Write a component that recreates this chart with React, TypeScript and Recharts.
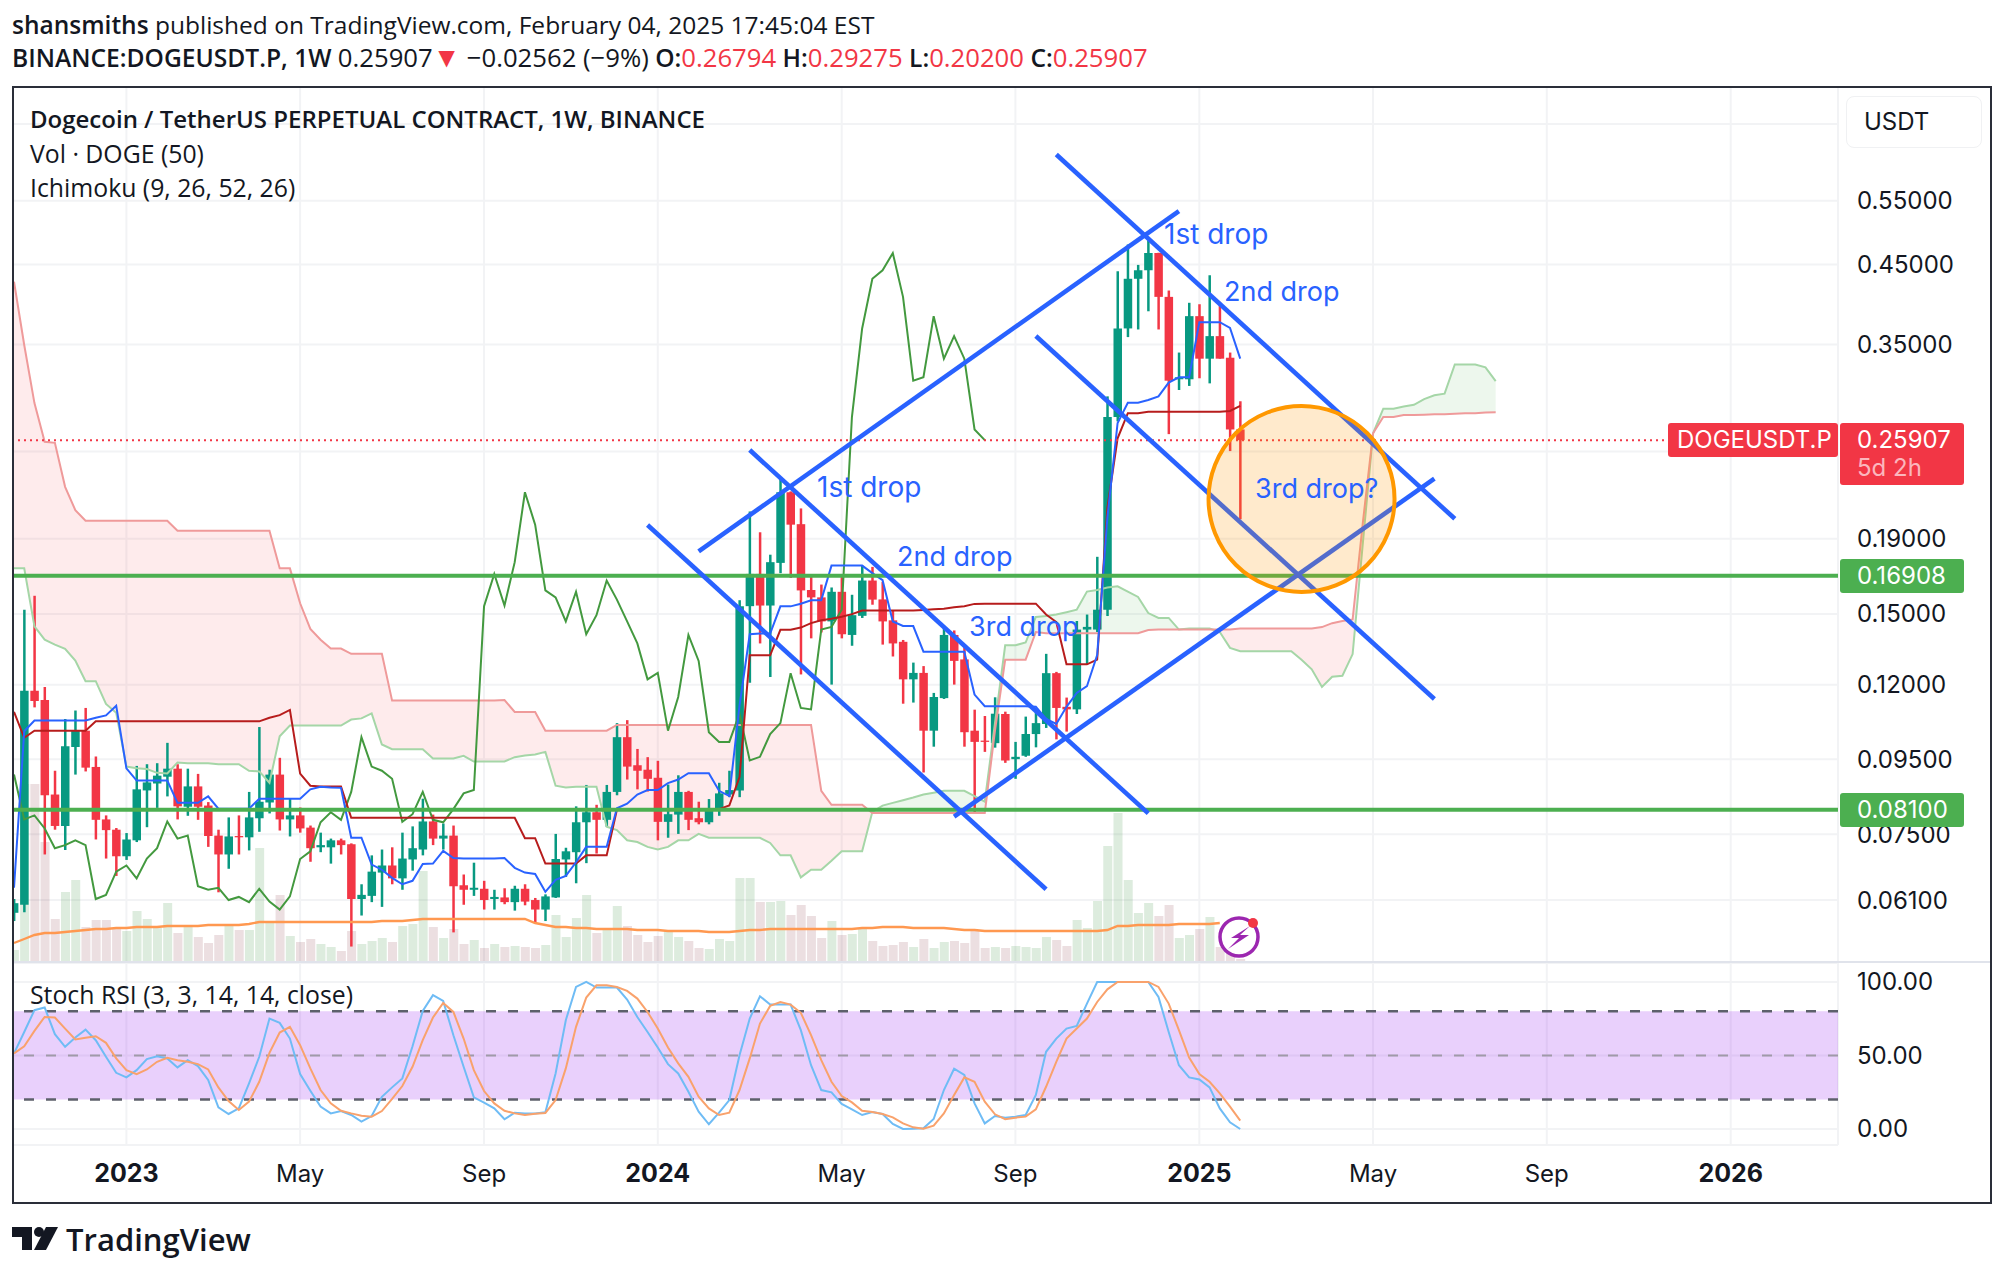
import {
  Area,
  Bar,
  CartesianGrid,
  Cell,
  ComposedChart,
  Line,
  ReferenceArea,
  ReferenceDot,
  ReferenceLine,
  XAxis,
  YAxis,
} from 'recharts';

// week index 0 = 2022-10-17, one slot per week, room for the projected cloud and empty future
const weeks = Array.from({ length: 179 }, (_, i) => i);
const tickWeeks = [11, 28, 46, 63, 81, 98, 116, 133, 150, 168];
const tickLabels = ['2023', 'May', 'Sep', '2024', 'May', 'Sep', '2025', 'May', 'Sep', '2026'];
const priceTicks = [0.55, 0.45, 0.35, 0.19, 0.15, 0.12, 0.095, 0.075, 0.061];
// two more grid levels whose labels sit behind the USDT button and the last price tag
const priceGrid = [0.7, 0.55, 0.45, 0.35, 0.25, 0.19, 0.15, 0.12, 0.095, 0.075, 0.061];
const rsiTicks = [0, 50, 100];

const opens = [
  0.0586, 0.0601, 0.1178, 0.1144, 0.085, 0.077, 0.0987, 0.1039, 0.0927, 0.0786,
  0.0761, 0.07, 0.0736, 0.0861, 0.088, 0.0899, 0.0922, 0.0818, 0.0872, 0.0821,
  0.0747, 0.0704, 0.0746, 0.0743, 0.0789, 0.0829, 0.0905, 0.0786, 0.0796, 0.0766,
  0.072, 0.072, 0.0736, 0.0727, 0.0612, 0.0618, 0.0665, 0.068, 0.0653, 0.0693,
  0.0715, 0.0781, 0.074, 0.0747, 0.0639, 0.063, 0.0632, 0.0612, 0.0615, 0.0606,
  0.0632, 0.061, 0.0592, 0.0615, 0.0693, 0.0709, 0.0779, 0.0804, 0.0785, 0.0857,
  0.1018, 0.0932, 0.0919, 0.0896, 0.078, 0.0798, 0.0857, 0.0789, 0.0779, 0.081,
  0.085, 0.0861, 0.1537, 0.1701, 0.154, 0.1761, 0.2199, 0.1989, 0.1617, 0.158,
  0.1465, 0.1608, 0.1404, 0.1491, 0.1666, 0.157, 0.147, 0.1374, 0.1221, 0.1246,
  0.1039, 0.1151, 0.1404, 0.13, 0.1039, 0.1007, 0.0999, 0.1095, 0.095, 0.096,
  0.1028, 0.1061, 0.1245, 0.112, 0.1111, 0.1428, 0.1428, 0.152, 0.2786, 0.3681,
  0.4303, 0.442, 0.4665, 0.4065, 0.3137, 0.3137, 0.3826, 0.3347, 0.3593, 0.3357,
  0.26794,
];
const highs = [
  0.0612, 0.152, 0.1588, 0.1192, 0.0916, 0.1078, 0.1107, 0.1116, 0.0958, 0.0796,
  0.0765, 0.0753, 0.093, 0.0935, 0.0938, 0.1, 0.0935, 0.0922, 0.0907, 0.083,
  0.0761, 0.0791, 0.0796, 0.0857, 0.1051, 0.0919, 0.0954, 0.0839, 0.0816, 0.0771,
  0.0754, 0.074, 0.074, 0.0729, 0.0641, 0.0702, 0.0715, 0.072, 0.0754, 0.0769,
  0.0839, 0.0798, 0.0776, 0.0771, 0.0661, 0.0686, 0.0648, 0.063, 0.0633, 0.0638,
  0.0641, 0.0614, 0.0621, 0.0751, 0.0719, 0.0819, 0.0876, 0.0823, 0.0876, 0.1064,
  0.1074, 0.0981, 0.0956, 0.0945, 0.0877, 0.0903, 0.086, 0.0831, 0.0838, 0.0882,
  0.0916, 0.1566, 0.207, 0.1939, 0.1807, 0.2296, 0.2205, 0.209, 0.1692, 0.1645,
  0.163, 0.169, 0.1593, 0.1746, 0.1739, 0.1659, 0.1516, 0.1382, 0.1287, 0.1273,
  0.117, 0.1432, 0.1424, 0.1351, 0.111, 0.1088, 0.1154, 0.1103, 0.1003, 0.1086,
  0.1111, 0.1323, 0.125, 0.1153, 0.1467, 0.1497, 0.1795, 0.2973, 0.4406, 0.4792,
  0.4495, 0.4857, 0.467, 0.4147, 0.3412, 0.399, 0.3972, 0.4351, 0.4002, 0.3412,
  0.29275,
];
const lows = [
  0.0571, 0.0587, 0.1118, 0.0704, 0.0761, 0.0714, 0.0905, 0.0914, 0.0738, 0.0695,
  0.0658, 0.0692, 0.0732, 0.0767, 0.0815, 0.0845, 0.0786, 0.0795, 0.0785, 0.0721,
  0.0625, 0.0673, 0.0704, 0.0713, 0.0756, 0.0801, 0.0759, 0.0745, 0.0754, 0.0688,
  0.0709, 0.0684, 0.0704, 0.0527, 0.0581, 0.0606, 0.0597, 0.0641, 0.063, 0.0669,
  0.0702, 0.0725, 0.0715, 0.0551, 0.0601, 0.0618, 0.0592, 0.0592, 0.0602, 0.059,
  0.06, 0.0567, 0.0571, 0.0614, 0.0656, 0.0643, 0.0685, 0.0706, 0.0768, 0.0848,
  0.0891, 0.0864, 0.0858, 0.0736, 0.0742, 0.0751, 0.076, 0.0774, 0.0774, 0.0795,
  0.0843, 0.0843, 0.1208, 0.1367, 0.123, 0.1705, 0.168, 0.124, 0.1389, 0.1415,
  0.1201, 0.1389, 0.1357, 0.1481, 0.1544, 0.1362, 0.1312, 0.1131, 0.1135, 0.0911,
  0.0988, 0.1148, 0.1201, 0.0988, 0.0802, 0.0972, 0.0985, 0.0939, 0.0893, 0.0957,
  0.0986, 0.1048, 0.1011, 0.1036, 0.1095, 0.128, 0.1417, 0.149, 0.2748, 0.3582,
  0.3669, 0.3885, 0.3669, 0.264, 0.3033, 0.3072, 0.3147, 0.3097, 0.3347, 0.2503,
  0.202,
];
const closes = [
  0.0604, 0.1178, 0.1141, 0.0848, 0.077, 0.0989, 0.1039, 0.0925, 0.0785, 0.076,
  0.07, 0.0738, 0.0864, 0.0883, 0.0902, 0.0922, 0.0819, 0.0872, 0.0818, 0.0746,
  0.0704, 0.0745, 0.0743, 0.0791, 0.0831, 0.0905, 0.0786, 0.0796, 0.0764, 0.0718,
  0.0725, 0.0736, 0.0725, 0.0612, 0.062, 0.0667, 0.068, 0.0653, 0.0695, 0.0718,
  0.0781, 0.074, 0.0747, 0.0637, 0.063, 0.0634, 0.061, 0.0616, 0.0606, 0.0632,
  0.0607, 0.0592, 0.0617, 0.0694, 0.0711, 0.0779, 0.0804, 0.0785, 0.0857, 0.1018,
  0.0928, 0.0916, 0.0893, 0.078, 0.0799, 0.0857, 0.0785, 0.0779, 0.0812, 0.0853,
  0.0862, 0.1537, 0.1701, 0.154, 0.1765, 0.2199, 0.1986, 0.1615, 0.158, 0.1465,
  0.1608, 0.1407, 0.1494, 0.1666, 0.1569, 0.1465, 0.1367, 0.1221, 0.1246, 0.1039,
  0.1155, 0.1404, 0.1294, 0.1034, 0.1003, 0.1003, 0.1096, 0.0946, 0.0957, 0.1028,
  0.1064, 0.1245, 0.1116, 0.1111, 0.1428, 0.144, 0.152, 0.2786, 0.3681, 0.4303,
  0.442, 0.4665, 0.4065, 0.3123, 0.3157, 0.3826, 0.3347, 0.3593, 0.3347, 0.2679,
  0.25907,
];
const volumes = [
  12, 178, 178, 120, 43, 70, 82, 35, 42, 42,
  33, 31, 51, 43, 34, 59, 29, 37, 25, 19,
  27, 37, 32, 32, 114, 39, 67, 26, 20, 23,
  18, 15, 11, 31, 18, 21, 24, 20, 36, 38,
  91, 35, 24, 33, 18, 22, 14, 18, 15, 16,
  15, 14, 17, 47, 25, 44, 67, 29, 32, 56,
  36, 27, 20, 26, 31, 25, 21, 14, 13, 23,
  21, 84, 84, 60, 60, 61, 47, 57, 46, 24,
  41, 27, 28, 34, 21, 16, 17, 20, 15, 23,
  14, 20, 21, 19, 32, 14, 15, 14, 16, 15,
  14, 25, 22, 16, 42, 34, 61, 116, 149, 82,
  49, 59, 46, 57, 24, 27, 33, 45, 15, 10,
  3,
];
const volumeMa = [
  19, 23, 27, 29, 29, 30, 31, 32, 33, 33,
  34, 34, 35, 35, 35, 36, 36, 36, 36, 37,
  37, 37, 37, 38, 40, 40, 40, 40, 40, 40,
  40, 40, 40, 40, 40, 40, 41, 41, 41, 42,
  43, 43, 43, 43, 43, 43, 43, 43, 43, 43,
  43, 39, 37, 35, 35, 34, 34, 33, 33, 33,
  33, 32, 32, 32, 31, 31, 31, 31, 30, 30,
  30, 31, 32, 32, 33, 33, 33, 33, 33, 33,
  33, 33, 33, 34, 34, 35, 35, 35, 34, 34,
  34, 34, 33, 32, 32, 31, 31, 31, 31, 31,
  31, 31, 31, 31, 31, 31, 31, 32, 36, 36,
  37, 37, 37, 37, 38, 38, 38, 38, 39,
];
const tenkan = [
  0.0634, 0.1037, 0.1073, 0.1073, 0.1073, 0.1073, 0.1073, 0.1073, 0.1082, 0.109,
  0.1124, 0.0923, 0.0888, 0.0888, 0.0888, 0.0888, 0.0828, 0.0828, 0.0828, 0.0845,
  0.0813, 0.0813, 0.0813, 0.0813, 0.0839, 0.0839, 0.0839, 0.0839, 0.0839, 0.0864,
  0.0871, 0.0869, 0.0868, 0.0742, 0.0742, 0.0682, 0.0671, 0.0654, 0.0641, 0.0648,
  0.0683, 0.0684, 0.0712, 0.0696, 0.0695, 0.0695, 0.0695, 0.0695, 0.0696, 0.0675,
  0.0665, 0.0662, 0.0626, 0.065, 0.0658, 0.0687, 0.0721, 0.0721, 0.0721, 0.0814,
  0.0826, 0.085, 0.0862, 0.0862, 0.0881, 0.0891, 0.0909, 0.0909, 0.0909, 0.086,
  0.0846, 0.1124, 0.1407, 0.141, 0.141, 0.1536, 0.1536, 0.1549, 0.1566, 0.1566,
  0.1746, 0.1746, 0.1746, 0.1746, 0.1705, 0.1668, 0.1465, 0.1444, 0.1444, 0.1332,
  0.1332, 0.1332, 0.1332, 0.1332, 0.1164, 0.1122, 0.1122, 0.1122, 0.1122, 0.1122,
  0.112, 0.1078, 0.1061, 0.112, 0.117, 0.1195, 0.1318, 0.2031, 0.2734, 0.2914,
  0.2914, 0.2939, 0.2973, 0.3104, 0.3157, 0.3157, 0.3754, 0.3754, 0.3754, 0.3687,
  0.3347,
];
const kijun = [
  0.1102, 0.1016, 0.1039, 0.1039, 0.1039, 0.1039, 0.1039, 0.1039, 0.107, 0.107,
  0.107, 0.107, 0.107, 0.107, 0.107, 0.107, 0.107, 0.107, 0.107, 0.107,
  0.107, 0.107, 0.107, 0.107, 0.107, 0.1082, 0.1091, 0.1109, 0.0908, 0.0874,
  0.0872, 0.0872, 0.0872, 0.079, 0.079, 0.079, 0.079, 0.079, 0.079, 0.079,
  0.079, 0.079, 0.079, 0.079, 0.079, 0.079, 0.079, 0.079, 0.079, 0.079,
  0.0741, 0.0741, 0.0684, 0.0684, 0.0684, 0.0684, 0.0702, 0.0702, 0.0702, 0.081,
  0.0812, 0.0812, 0.0812, 0.0812, 0.0812, 0.0812, 0.0812, 0.0812, 0.0812, 0.0812,
  0.0821, 0.0898, 0.1317, 0.1317, 0.1317, 0.1427, 0.1427, 0.1437, 0.1457, 0.147,
  0.1477, 0.1487, 0.1499, 0.1516, 0.1516, 0.1516, 0.1516, 0.1516, 0.1516, 0.1519,
  0.1522, 0.1525, 0.1532, 0.1537, 0.1548, 0.1549, 0.1549, 0.1549, 0.1549, 0.1549,
  0.1549, 0.1497, 0.1462, 0.128, 0.128, 0.128, 0.1299, 0.2094, 0.2606, 0.282,
  0.282, 0.2832, 0.2832, 0.2832, 0.2832, 0.2832, 0.2832, 0.2832, 0.2832, 0.284,
  0.2885,
];
const senkouA = [
  0.1731, 0.1731, 0.1442, 0.1383, 0.1362, 0.1344, 0.1295, 0.1214, 0.1214, 0.113,
  0.1099, 0.0928, 0.0923, 0.0921, 0.091, 0.0908, 0.094, 0.0938, 0.0938, 0.0938,
  0.0935, 0.0935, 0.0935, 0.0916, 0.0914, 0.0882, 0.1021, 0.1056, 0.1056, 0.1056,
  0.1056, 0.1056, 0.1056, 0.1076, 0.108, 0.1097, 0.0995, 0.098, 0.098, 0.098,
  0.098, 0.0952, 0.0952, 0.0952, 0.096, 0.0943, 0.0943, 0.0943, 0.0943, 0.0956,
  0.0961, 0.0964, 0.0972, 0.0874, 0.0869, 0.0871, 0.0871, 0.0871, 0.0768, 0.076,
  0.0736, 0.0732, 0.0721, 0.0715, 0.0721, 0.0736, 0.0736, 0.0751, 0.0742, 0.0742,
  0.0742, 0.0742, 0.0742, 0.0742, 0.073, 0.0702, 0.0702, 0.0655, 0.0671, 0.0671,
  0.069, 0.0711, 0.0711, 0.0711, 0.0805, 0.0821, 0.0828, 0.0835, 0.0842, 0.085,
  0.0855, 0.086, 0.086, 0.086, 0.0846, 0.0831, 0.1064, 0.1359, 0.1359, 0.1371,
  0.1486, 0.149, 0.1497, 0.1508, 0.152, 0.1609, 0.1617, 0.163, 0.1636, 0.1609,
  0.1582, 0.1504, 0.1481, 0.1481, 0.1428, 0.1433, 0.1433, 0.1433, 0.1417, 0.1348,
  0.1334, 0.1334, 0.1334, 0.1334, 0.1334, 0.1334, 0.1299, 0.126, 0.1192, 0.1231,
  0.1235, 0.1322, 0.1874, 0.2647, 0.286, 0.286, 0.288, 0.2895, 0.2948, 0.2983,
  0.2998, 0.3287, 0.3287, 0.3287, 0.3257, 0.3119,
];
const senkouB = [
  0.4263, 0.3494, 0.2911, 0.2577, 0.2569, 0.2237, 0.2079, 0.2011, 0.2011, 0.2011,
  0.2011, 0.2011, 0.2011, 0.2011, 0.2011, 0.2011, 0.1949, 0.1949, 0.1949, 0.1949,
  0.1949, 0.1949, 0.1949, 0.1949, 0.1949, 0.1949, 0.1731, 0.1731, 0.1551, 0.1431,
  0.1383, 0.1345, 0.1345, 0.1323, 0.1323, 0.1323, 0.1323, 0.1142, 0.1142, 0.1142,
  0.1142, 0.1142, 0.1142, 0.1142, 0.1142, 0.1142, 0.1142, 0.1142, 0.1144, 0.1102,
  0.1102, 0.1102, 0.1039, 0.1039, 0.1039, 0.1039, 0.1039, 0.1039, 0.1039, 0.1058,
  0.1058, 0.1058, 0.1058, 0.1058, 0.1058, 0.1058, 0.1058, 0.1058, 0.1058, 0.1058,
  0.1058, 0.1058, 0.1058, 0.1058, 0.1058, 0.1058, 0.1058, 0.1058, 0.1058, 0.086,
  0.0823, 0.0823, 0.0823, 0.0823, 0.0802, 0.0802, 0.0802, 0.0802, 0.0802, 0.0802,
  0.0802, 0.0802, 0.0802, 0.0802, 0.0802, 0.0802, 0.1039, 0.1299, 0.1299, 0.1299,
  0.1417, 0.1412, 0.1412, 0.1412, 0.1412, 0.1412, 0.1412, 0.1412, 0.1412, 0.1412,
  0.1412, 0.1426, 0.1428, 0.1428, 0.1428, 0.1428, 0.1428, 0.1428, 0.1428, 0.1428,
  0.1433, 0.1433, 0.1433, 0.1433, 0.1433, 0.1433, 0.1433, 0.1433, 0.1439, 0.1457,
  0.1467, 0.1474, 0.1999, 0.2647, 0.2786, 0.2786, 0.2803, 0.2803, 0.2806, 0.2811,
  0.2811, 0.2815, 0.282, 0.282, 0.2825, 0.2829,
];
const lagging = [
  0.0905, 0.0786, 0.0796, 0.0764, 0.0718, 0.0725, 0.0736, 0.0725, 0.0612, 0.062,
  0.0667, 0.068, 0.0653, 0.0695, 0.0718, 0.0781, 0.074, 0.0747, 0.0637, 0.063,
  0.0634, 0.061, 0.0616, 0.0606, 0.0632, 0.0607, 0.0592, 0.0617, 0.0694, 0.0711,
  0.0779, 0.0804, 0.0785, 0.0857, 0.1018, 0.0928, 0.0916, 0.0893, 0.078, 0.0799,
  0.0857, 0.0785, 0.0779, 0.0812, 0.0853, 0.0862, 0.1537, 0.1701, 0.154, 0.1765,
  0.2199, 0.1986, 0.1615, 0.158, 0.1465, 0.1608, 0.1407, 0.1494, 0.1666, 0.1569,
  0.1465, 0.1367, 0.1221, 0.1246, 0.1039, 0.1155, 0.1404, 0.1294, 0.1034, 0.1003,
  0.1003, 0.1096, 0.0946, 0.0957, 0.1028, 0.1064, 0.1245, 0.1116, 0.1111, 0.1428,
  0.144, 0.152, 0.2786, 0.3681, 0.4303, 0.442, 0.4665, 0.4065, 0.3123, 0.3157,
  0.3826, 0.3347, 0.3593, 0.3347, 0.2679, 0.25907,
];
const stochK = [
  51.4, 66, 80.8, 82.6, 64.5, 55.9, 62.2, 67.6, 60.4, 49.1,
  38.2, 35.1, 40, 47.5, 49.5, 48, 41.9, 46.8, 42.8, 33.3,
  14.7, 10.2, 14, 31, 49.1, 75.1, 72.2, 61.5, 37.3, 26,
  15.2, 10.6, 12.2, 9.5, 5, 8.8, 21.9, 28.3, 34.4, 56.3,
  80.3, 91, 87.1, 63.8, 42.3, 21.5, 17.9, 14, 6.6, 11.1,
  10.6, 10.6, 11.3, 37.8, 74, 96.6, 100, 96.2, 96.2, 96.2,
  88, 76.2, 66, 55.4, 44.1, 37.8, 25.3, 11.8, 3.2, 11.1,
  19.7, 50.2, 75.1, 90.3, 84.6, 84.6, 84.6, 67.2, 43.4, 26.5,
  24.9, 17, 13.3, 9.5, 11.5, 10.2, 3.4, 0, 0.2, 0.5,
  6.8, 26.5, 41, 36.7, 17.4, 3.8, 8.8, 7.7, 8.4, 9.5,
  23.1, 52.5, 61.5, 68.3, 70.1, 85.3, 100, 100, 100, 100,
  100, 100, 89.8, 66, 43.4, 35.1, 33.7, 28.3, 14, 4.5,
  0,
];
const stochD = [
  51.4, 56.3, 66.7, 76.2, 75.8, 68.3, 60.9, 62, 63.1, 58.6,
  48, 40, 37.3, 40.5, 45.7, 48.4, 46.8, 45.7, 44.1, 40.5,
  28.3, 19, 12.9, 18.6, 32.1, 51.8, 65.6, 69.5, 57, 41.2,
  26.5, 17.4, 12.4, 10.6, 9, 8.4, 12.2, 20.4, 29.2, 42.3,
  60.4, 75.8, 85.7, 79.6, 61.5, 40, 25.8, 17.4, 12.4, 10.6,
  9.5, 10.4, 10.9, 19.7, 41.2, 69.5, 89.4, 97.7, 97.7, 96.6,
  93.9, 88.7, 79.6, 68.3, 55.4, 44.6, 35.5, 21.9, 14, 9.5,
  11.1, 26.5, 48, 71.7, 83.7, 86.4, 84.6, 79, 63.8, 46.8,
  32.1, 22.4, 18.1, 12.4, 11.5, 10.2, 7.9, 3.8, 1.1, 0.2,
  2.3, 10.6, 23.1, 35.1, 32.1, 18.6, 10, 6.6, 7.7, 8.4,
  13.3, 28.7, 45.7, 61.5, 68.3, 75.1, 86.4, 95, 100, 100,
  100, 100, 96.6, 85.3, 67.2, 48.6, 37.3, 32.1, 24.2, 15.2,
  5.7,
];

const rows = weeks.map((week, i) => {
  const a = senkouA[i];
  const b = senkouB[i];
  const hasCloud = a !== undefined;
  return {
    week,
    open: opens[i] ?? null,
    close: closes[i] ?? null,
    wick: highs[i] !== undefined ? [lows[i], highs[i]] : null,
    body: opens[i] !== undefined ? [Math.min(opens[i], closes[i]), Math.max(opens[i], closes[i])] : null,
    volume: volumes[i] ?? null,
    volumeMa: volumeMa[i] ?? null,
    tenkan: tenkan[i] ?? null,
    kijun: kijun[i] ?? null,
    lagging: lagging[i] ?? null,
    senkouA: a ?? null,
    senkouB: b ?? null,
    cloudUp: hasCloud ? [b, Math.max(a, b)] : null,
    cloudDown: hasCloud ? [a, Math.max(a, b)] : null,
    stochK: stochK[i] ?? null,
    stochD: stochD[i] ?? null,
  };
});

const UP = '#089981';
const DOWN = '#f23645';
const BLUE = '#2962ff';
const GREEN = '#4caf50';
const GRID = '#f2f3f5';
const TEXT = '#131722';
const AXIS_FONT = 'Inter, sans-serif';
const UI_FONT = '"Open Sans", sans-serif';

// drawn trend lines, [week, price] at each end
const trendLines = [
  [[67, 0.1826], [114, 0.5325]],
  [[72, 0.2511], [111, 0.0801]],
  [[62, 0.1984], [101, 0.0631]],
  [[102, 0.636], [141, 0.2023]],
  [[100, 0.3595], [139, 0.1148]],
  [[92, 0.0793], [139, 0.2295]],
];

function TimeTick({ x, y, payload }: any) {
  const label = tickLabels[tickWeeks.indexOf(payload.value)];
  const isYear = label.length === 4;
  return (
    <text
      x={x}
      y={y}
      dy={29}
      textAnchor="middle"
      fill={TEXT}
      fontFamily={AXIS_FONT}
      fontSize={isYear ? 25 : 24}
      fontWeight={isYear ? 700 : 400}
    >
      {label}
    </text>
  );
}

function PricePane() {
  return (
    <ComposedChart
      width={2004}
      height={962}
      data={rows}
      margin={{ top: 88, right: 0, bottom: 0, left: 8.9 }}
      style={{ position: 'absolute', left: 0, top: 0 }}
    >
      <CartesianGrid xAxisId="main" yAxisId="price" stroke={GRID} strokeWidth={2} horizontalValues={priceGrid} />
      <XAxis xAxisId="main" dataKey="week" scale="band" ticks={tickWeeks} interval={0} hide />
      <XAxis xAxisId="vol" dataKey="week" scale="band" hide />
      <XAxis xAxisId="wick" dataKey="week" scale="band" hide />
      <XAxis xAxisId="body" dataKey="week" scale="band" hide />
      <YAxis
        yAxisId="price"
        orientation="right"
        type="number"
        scale="log"
        domain={[0.0502, 0.784]}
        allowDataOverflow
        ticks={priceTicks}
        interval={0}
        width={166}
        axisLine={false}
        tickLine={false}
        tickSize={0}
        tickMargin={19}
        tick={{ fill: TEXT, fontSize: 24, fontFamily: AXIS_FONT }}
        tickFormatter={(v: number) => v.toFixed(5)}
      />
      <YAxis yAxisId="vol" type="number" domain={[0, 874]} hide />

      <Bar xAxisId="vol" yAxisId="vol" dataKey="volume" barSize={9} isAnimationActive={false}>
        {rows.map((r) => (
          <Cell
            key={r.week}
            fill={r.open !== null && r.close >= r.open ? 'rgba(56,142,60,0.17)' : 'rgba(120,30,40,0.14)'}
          />
        ))}
      </Bar>
      <Line xAxisId="main" yAxisId="vol" dataKey="volumeMa" stroke="#ff9850" strokeWidth={2.4} dot={false} isAnimationActive={false} />

      <Area xAxisId="main" yAxisId="price" dataKey="cloudUp" stroke="none" fill="#4caf50" fillOpacity={0.1} baseValue="dataMin" isAnimationActive={false} />
      <Area xAxisId="main" yAxisId="price" dataKey="cloudDown" stroke="none" fill="#f23645" fillOpacity={0.1} baseValue="dataMin" isAnimationActive={false} />
      <Line xAxisId="main" yAxisId="price" dataKey="senkouA" stroke="#a5d6a7" strokeWidth={2} dot={false} isAnimationActive={false} />
      <Line xAxisId="main" yAxisId="price" dataKey="senkouB" stroke="#ef9a9a" strokeWidth={2} dot={false} isAnimationActive={false} />
      <Line xAxisId="main" yAxisId="price" dataKey="lagging" stroke="#43993f" strokeWidth={2} dot={false} isAnimationActive={false} />
      <Line xAxisId="main" yAxisId="price" dataKey="kijun" stroke="#b71c1c" strokeWidth={2} dot={false} isAnimationActive={false} />
      <Line xAxisId="main" yAxisId="price" dataKey="tenkan" stroke={BLUE} strokeWidth={2} dot={false} isAnimationActive={false} />

      <Bar xAxisId="wick" yAxisId="price" dataKey="wick" barSize={2.5} isAnimationActive={false}>
        {rows.map((r) => (
          <Cell key={r.week} fill={r.close >= r.open ? UP : DOWN} />
        ))}
      </Bar>
      <Bar xAxisId="body" yAxisId="price" dataKey="body" barSize={8.5} isAnimationActive={false}>
        {rows.map((r) => (
          <Cell key={r.week} fill={r.close >= r.open ? UP : DOWN} />
        ))}
      </Bar>

      <ReferenceLine xAxisId="main" yAxisId="price" y={0.25907} stroke={DOWN} strokeWidth={2} strokeDasharray="2 4" />
      <ReferenceLine xAxisId="main" yAxisId="price" y={0.16908} stroke={GREEN} strokeWidth={4} />
      <ReferenceLine xAxisId="main" yAxisId="price" y={0.081} stroke={GREEN} strokeWidth={4} />
      {trendLines.map(([from, to], i) => (
        <ReferenceLine
          key={i}
          xAxisId="main"
          yAxisId="price"
          segment={[{ x: from[0], y: from[1] }, { x: to[0], y: to[1] }]}
          stroke={BLUE}
          strokeWidth={4.6}
        />
      ))}
      <ReferenceDot
        xAxisId="main"
        yAxisId="price"
        x={126}
        y={0.2153}
        r={93}
        fill="#ff9800"
        fillOpacity={0.2}
        stroke="#ff9800"
        strokeWidth={4}
      />
    </ComposedChart>
  );
}

function StochPane() {
  return (
    <ComposedChart
      width={2004}
      height={241}
      data={rows}
      margin={{ top: 1, right: 0, bottom: 0, left: 8.9 }}
      style={{ position: 'absolute', left: 0, top: 962 }}
    >
      <CartesianGrid stroke={GRID} strokeWidth={2} />
      <XAxis
        dataKey="week"
        scale="band"
        ticks={tickWeeks}
        interval={0}
        height={58}
        axisLine={false}
        tickLine={false}
        tick={<TimeTick />}
      />
      <YAxis
        orientation="right"
        type="number"
        domain={[-10.9, 112.9]}
        ticks={rsiTicks}
        interval={0}
        width={166}
        axisLine={false}
        tickLine={false}
        tickSize={0}
        tickMargin={19}
        tick={{ fill: TEXT, fontSize: 24, fontFamily: AXIS_FONT }}
        tickFormatter={(v: number) => v.toFixed(2)}
      />
      <ReferenceArea y1={20} y2={80} fill="#9c27f0" fillOpacity={0.22} stroke="none" />
      <ReferenceLine y={80} stroke="#5d606b" strokeWidth={2.5} strokeDasharray="10 12" />
      <ReferenceLine y={50} stroke="#a09aa8" strokeWidth={2} strokeDasharray="10 12" />
      <ReferenceLine y={20} stroke="#5d606b" strokeWidth={2.5} strokeDasharray="10 12" />
      <Line dataKey="stochK" stroke="#6fbcf5" strokeWidth={2} dot={false} isAnimationActive={false} />
      <Line dataKey="stochD" stroke="#f9a26c" strokeWidth={2} dot={false} isAnimationActive={false} />
    </ComposedChart>
  );
}

const textAt = (left: number, centerY: number, fontSize: number, color: string = TEXT): React.CSSProperties => ({
  position: 'absolute',
  left,
  top: centerY - fontSize,
  height: fontSize * 2,
  lineHeight: `${fontSize * 2}px`,
  fontSize,
  color,
  whiteSpace: 'nowrap',
});

const box = (left: number, top: number, width: number, height: number, background: string): React.CSSProperties => ({
  position: 'absolute',
  left,
  top,
  width,
  height,
  background,
  borderRadius: 3,
});

export default function App() {
  const uiFont = { fontFamily: UI_FONT };
  const axisFont = { fontFamily: AXIS_FONT };
  const num = { fontSize: 25.7 };
  const redNum = { color: '#f23645', fontSize: 25.7 };
  const strong = { fontWeight: 600, fontSize: 24.6 };
  return (
    <div style={{ position: 'absolute', left: 0, top: 0, width: 2004, height: 1276, background: '#fff', overflow: 'hidden' }}>
      <PricePane />
      <StochPane />

      {/* frame, pane divider and the sliver left of the frame */}
      <div style={{ position: 'absolute', left: 0, top: 80, width: 12, height: 1130, background: '#fff' }} />
      <div style={{ position: 'absolute', left: 14, top: 961, width: 1976, height: 2, background: '#e0e3eb' }} />
      <div style={{ position: 'absolute', left: 12, top: 86, width: 1976, height: 1114, border: '2px solid #2a2e39' }} />

      <div style={{ ...textAt(12, 24, 24.5), ...uiFont }}>
        <span style={{ fontWeight: 600 }}>shansmiths</span> published on TradingView.com, February 04, 2025 17:45:04 EST
      </div>
      <div style={{ ...textAt(12, 57, 24.5), ...uiFont }}>
        <span style={strong}>BINANCE:DOGEUSDT.P, 1W</span> <span style={num}>0.25907</span>
        <span style={{ color: '#f23645', fontSize: 28, lineHeight: 1 }}>▼</span> <span style={num}>−0.02562 (−9%)</span>{' '}
        <span style={strong}>O:</span><span style={redNum}>0.26794</span> <span style={strong}>H:</span>
        <span style={redNum}>0.29275</span> <span style={strong}>L:</span><span style={redNum}>0.20200</span>{' '}
        <span style={strong}>C:</span><span style={redNum}>0.25907</span>
      </div>

      <div style={{ ...textAt(30, 119, 24), ...uiFont, fontWeight: 600 }}>Dogecoin / TetherUS PERPETUAL CONTRACT, 1W, BINANCE</div>
      <div style={{ ...textAt(30, 154, 24.8), ...uiFont }}>Vol · DOGE (50)</div>
      <div style={{ ...textAt(30, 188, 24.8), ...uiFont }}>Ichimoku (9, 26, 52, 26)</div>
      <div style={{ ...textAt(30, 995, 24.8), ...uiFont }}>Stoch RSI (3, 3, 14, 14, close)</div>

      <div style={{ ...textAt(1164, 234, 28, BLUE), ...axisFont }}>1st drop</div>
      <div style={{ ...textAt(1224, 292, 27, BLUE), ...axisFont }}>2nd drop</div>
      <div style={{ ...textAt(1255, 489, 27, BLUE), ...axisFont }}>3rd drop?</div>
      <div style={{ ...textAt(817, 487, 28, BLUE), ...axisFont }}>1st drop</div>
      <div style={{ ...textAt(897, 557, 27, BLUE), ...axisFont }}>2nd drop</div>
      <div style={{ ...textAt(969, 627, 27, BLUE), ...axisFont }}>3rd drop</div>

      <div style={{ ...box(1846, 96, 136, 52, '#fff'), border: '1px solid #f0f1f3', borderRadius: 8, boxSizing: 'border-box' }} />
      <div style={{ ...textAt(1864, 122, 24), ...axisFont }}>USDT</div>

      <div style={box(1668, 423, 170, 34, DOWN)} />
      <div style={{ ...textAt(1677, 440, 24, '#fff'), ...axisFont }}>DOGEUSDT.P</div>
      <div style={box(1840, 423, 124, 62, DOWN)} />
      <div style={{ ...textAt(1857, 440, 24, '#fff'), ...axisFont }}>0.25907</div>
      <div style={{ ...textAt(1857, 468, 24, '#fbb6bd'), ...axisFont }}>5d 2h</div>

      <div style={box(1840, 559, 124, 34, GREEN)} />
      <div style={{ ...textAt(1857, 576, 24, '#fff'), ...axisFont }}>0.16908</div>
      <div style={box(1840, 793, 124, 34, GREEN)} />
      <div style={{ ...textAt(1857, 810, 24, '#fff'), ...axisFont }}>0.08100</div>

      {/* news flash badge */}
      <svg width={60} height={60} style={{ position: 'absolute', left: 1210, top: 907 }}>
        <circle cx={29} cy={30} r={19} fill="#fff" stroke="#9c27b0" strokeWidth={3.5} />
        <polygon points="40,19 21,31 29,31 18,42 39,28 30,28" fill="#9c27b0" />
        <circle cx={43} cy={16} r={5} fill={DOWN} />
      </svg>

      {/* TradingView mark */}
      <svg width={60} height={34} style={{ position: 'absolute', left: 12, top: 1226 }}>
        <polygon points="0,1 20,1 20,24 10,24 10,11 0,11" fill={TEXT} />
        <circle cx={27} cy={6} r={5} fill={TEXT} />
        <polygon points="34,1 46,1 34,24 22,24" fill={TEXT} />
      </svg>
      <div style={{ ...textAt(66, 1239, 31), ...uiFont, fontWeight: 600 }}>TradingView</div>
    </div>
  );
}
